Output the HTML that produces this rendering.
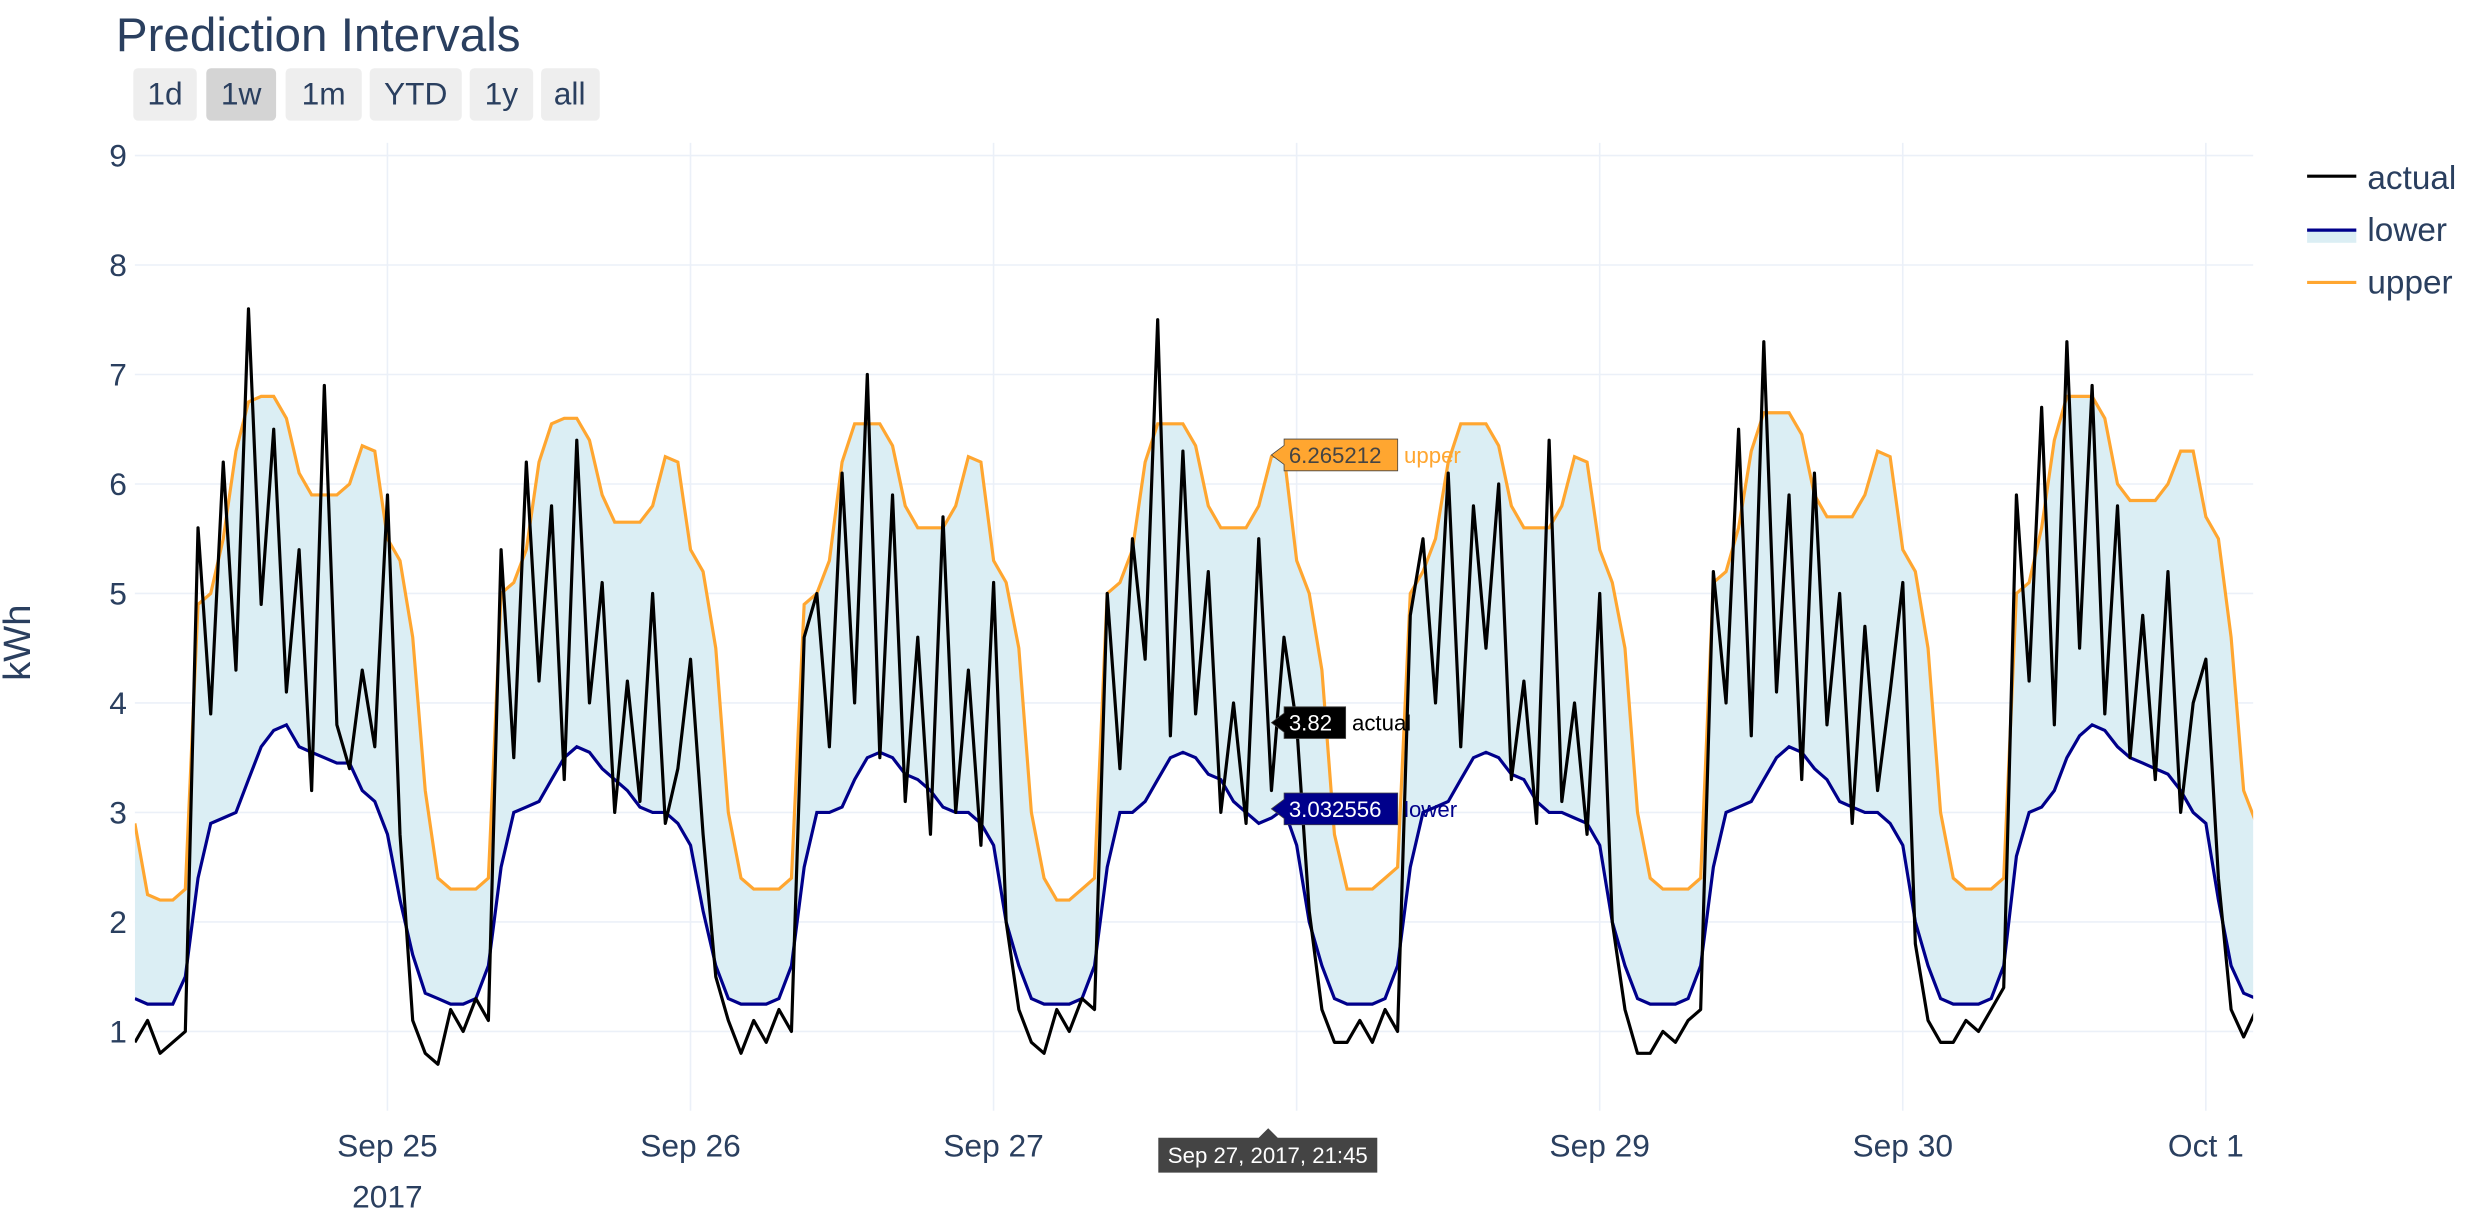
<!DOCTYPE html>
<html><head><meta charset="utf-8"><style>
html,body{margin:0;padding:0;background:#fff;}
svg{display:block;font-family:"Liberation Sans","DejaVu Sans",sans-serif;}
</style></head><body>
<svg id="chart" width="2488" height="1232" viewBox="0 0 1568 776.4" xmlns="http://www.w3.org/2000/svg">
<g id="grid"></g>
<g id="series"></g>
<g id="axes"></g>
<text x="73" y="32" font-size="30" fill="#2a3f5f">Prediction Intervals</text>
<g font-size="20" fill="#2a3f5f">
<g><rect x="84" y="43" width="40" height="33" rx="3" fill="#eeeeee"/><text x="104" y="66" text-anchor="middle" fill="#2a3f5f">1d</text></g>
<g><rect x="130" y="43" width="44" height="33" rx="3" fill="#d4d4d4"/><text x="152" y="66" text-anchor="middle" fill="#2a3f5f">1w</text></g>
<g><rect x="180" y="43" width="48" height="33" rx="3" fill="#eeeeee"/><text x="204" y="66" text-anchor="middle" fill="#2a3f5f">1m</text></g>
<g><rect x="233" y="43" width="58" height="33" rx="3" fill="#eeeeee"/><text x="262" y="66" text-anchor="middle" fill="#2a3f5f">YTD</text></g>
<g><rect x="296" y="43" width="40" height="33" rx="3" fill="#eeeeee"/><text x="316" y="66" text-anchor="middle" fill="#2a3f5f">1y</text></g>
<g><rect x="341" y="43" width="37" height="33" rx="3" fill="#eeeeee"/><text x="359" y="66" text-anchor="middle" fill="#2a3f5f">all</text></g>
</g>
<text transform="translate(19,405) rotate(-90)" text-anchor="middle" font-size="24" fill="#2a3f5f">kWh</text>
<g font-size="21" fill="#2a3f5f">
<g><line x1="1454" y1="111" x2="1485" y2="111" stroke="#000" stroke-width="2"/><text x="1492" y="119">actual</text></g>
<g><rect x="1454" y="145" width="31" height="8" fill="#dbeef4"/><line x1="1454" y1="145" x2="1485" y2="145" stroke="#00008b" stroke-width="2"/><text x="1492" y="152">lower</text></g>
<g><line x1="1454" y1="178" x2="1485" y2="178" stroke="#ffa630" stroke-width="2"/><text x="1492" y="185">upper</text></g>
</g>
<g id="hover"></g>
</svg>
<script>
// hourly values starting Sep 24 2017 04:00
const startLabel = "2017-09-24T04:00";
const actual = [
0.9,1.1,0.8,0.9,1.0,5.6,3.9,6.2,4.3,7.6,4.9,6.5,4.1,5.4,3.2,6.9,3.8,3.4,4.3,3.6,5.9,2.8,1.1,0.8,
0.7,1.2,1.0,1.3,1.1,5.4,3.5,6.2,4.2,5.8,3.3,6.4,4.0,5.1,3.0,4.2,3.1,5.0,2.9,3.4,4.4,2.8,1.5,1.1,
0.8,1.1,0.9,1.2,1.0,4.6,5.0,3.6,6.1,4.0,7.0,3.5,5.9,3.1,4.6,2.8,5.7,3.0,4.3,2.7,5.1,2.0,1.2,0.9,
0.8,1.2,1.0,1.3,1.2,5.0,3.4,5.5,4.4,7.5,3.7,6.3,3.9,5.2,3.0,4.0,2.9,5.5,3.2,4.6,3.8,2.1,1.2,0.9,
0.9,1.1,0.9,1.2,1.0,4.8,5.5,4.0,6.1,3.6,5.8,4.5,6.0,3.3,4.2,2.9,6.4,3.1,4.0,2.8,5.0,2.0,1.2,0.8,
0.8,1.0,0.9,1.1,1.2,5.2,4.0,6.5,3.7,7.3,4.1,5.9,3.3,6.1,3.8,5.0,2.9,4.7,3.2,4.1,5.1,1.8,1.1,0.9,
0.9,1.1,1.0,1.2,1.4,5.9,4.2,6.7,3.8,7.3,4.5,6.9,3.9,5.8,3.5,4.8,3.3,5.2,3.0,4.0,4.4,2.4,1.2,0.95,
1.2];
const upper = [
2.9,2.25,2.2,2.2,2.3,4.9,5.0,5.5,6.3,6.75,6.8,6.8,6.6,6.1,5.9,5.9,5.9,6.0,6.35,6.3,5.5,5.3,4.6,3.2,
2.4,2.3,2.3,2.3,2.4,5.0,5.1,5.4,6.2,6.55,6.6,6.6,6.4,5.9,5.65,5.65,5.65,5.8,6.25,6.2,5.4,5.2,4.5,3.0,
2.4,2.3,2.3,2.3,2.4,4.9,5.0,5.3,6.2,6.55,6.55,6.55,6.35,5.8,5.6,5.6,5.6,5.8,6.25,6.2,5.3,5.1,4.5,3.0,
2.4,2.2,2.2,2.3,2.4,5.0,5.1,5.4,6.2,6.55,6.55,6.55,6.35,5.8,5.6,5.6,5.6,5.8,6.25,6.27,5.3,5.0,4.3,2.8,
2.3,2.3,2.3,2.4,2.5,5.0,5.2,5.5,6.2,6.55,6.55,6.55,6.35,5.8,5.6,5.6,5.6,5.8,6.25,6.2,5.4,5.1,4.5,3.0,
2.4,2.3,2.3,2.3,2.4,5.1,5.2,5.6,6.3,6.65,6.65,6.65,6.45,5.9,5.7,5.7,5.7,5.9,6.3,6.25,5.4,5.2,4.5,3.0,
2.4,2.3,2.3,2.3,2.4,5.0,5.1,5.6,6.4,6.8,6.8,6.8,6.6,6.0,5.85,5.85,5.85,6.0,6.3,6.3,5.7,5.5,4.6,3.2,
2.9];
const lower = [
1.3,1.25,1.25,1.25,1.5,2.4,2.9,2.95,3.0,3.3,3.6,3.75,3.8,3.6,3.55,3.5,3.45,3.45,3.2,3.1,2.8,2.2,1.7,1.35,
1.3,1.25,1.25,1.3,1.6,2.5,3.0,3.05,3.1,3.3,3.5,3.6,3.55,3.4,3.3,3.2,3.05,3.0,3.0,2.9,2.7,2.1,1.6,1.3,
1.25,1.25,1.25,1.3,1.6,2.5,3.0,3.0,3.05,3.3,3.5,3.55,3.5,3.35,3.3,3.2,3.05,3.0,3.0,2.9,2.7,2.0,1.6,1.3,
1.25,1.25,1.25,1.3,1.6,2.5,3.0,3.0,3.1,3.3,3.5,3.55,3.5,3.35,3.3,3.1,3.0,2.9,2.95,3.03,2.7,2.0,1.6,1.3,
1.25,1.25,1.25,1.3,1.6,2.5,3.0,3.05,3.1,3.3,3.5,3.55,3.5,3.35,3.3,3.1,3.0,3.0,2.95,2.9,2.7,2.0,1.6,1.3,
1.25,1.25,1.25,1.3,1.6,2.5,3.0,3.05,3.1,3.3,3.5,3.6,3.55,3.4,3.3,3.1,3.05,3.0,3.0,2.9,2.7,2.0,1.6,1.3,
1.25,1.25,1.25,1.3,1.6,2.6,3.0,3.05,3.2,3.5,3.7,3.8,3.75,3.6,3.5,3.45,3.4,3.35,3.2,3.0,2.9,2.2,1.6,1.35,
1.3];
const yTicks = [1,2,3,4,5,6,7,8,9];
const xTickLabels = ["Sep 25","Sep 26","Sep 27","","Sep 29","Sep 30","Oct 1"];
const xTickHours = [20,44,68,92,116,140,164];

const NS="http://www.w3.org/2000/svg";
const X0=85, X1=1420, Y9=98, Y1=650;
const HOUR=191/24;
function xs(h){return 85 + h*HOUR;}
function ys(v){return Y1 - (v-1)*(Y1-Y9)/8;}
function mk(tag,attrs,parent){const e=document.createElementNS(NS,tag);for(const k in attrs)e.setAttribute(k,attrs[k]);parent.appendChild(e);return e;}
const grid=document.getElementById('grid'), series=document.getElementById('series'), axes=document.getElementById('axes'), hover=document.getElementById('hover');

yTicks.forEach(v=>{
  const l=mk('line',{x1:X0,x2:X1,y1:ys(v),y2:ys(v),stroke:'#ebf0f8','stroke-width':1},grid);
  
  
  const t=mk('text',{x:80,y:ys(v)+7,'text-anchor':'end','font-size':20,fill:'#2a3f5f'},axes);
  t.textContent=v;
  
  
});
xTickHours.forEach((h,i)=>{
  const l=mk('line',{x1:xs(h),x2:xs(h),y1:90,y2:700,stroke:'#ebf0f8','stroke-width':1},grid);
  
  
  const t=mk('text',{x:xs(h),y:729,'text-anchor':'middle','font-size':20,fill:'#2a3f5f'},axes);
  t.textContent=xTickLabels[i];
  
  
});
const yr=mk('text',{x:xs(20),y:761,'text-anchor':'middle','font-size':20,fill:'#2a3f5f'},axes);
yr.textContent='2017';



const cp=mk('clipPath',{id:'clip'},series);
mk('rect',{x:X0,y:80,width:X1-X0,height:640},cp);
const g=mk('g',{'clip-path':'url(#clip)'},series);
function pts(arr){return arr.map((v,i)=>xs(i).toFixed(1)+','+ys(v).toFixed(1));}
const band=mk('polygon',{points:pts(lower).concat(pts(upper).reverse()).join(' '),fill:'#dbeef4'},g);


const lo=mk('polyline',{points:pts(lower).join(' '),fill:'none',stroke:'#00008b','stroke-width':2},g);


const up=mk('polyline',{points:pts(upper).join(' '),fill:'none',stroke:'#ffa630','stroke-width':2},g);


const ac=mk('polyline',{points:pts(actual).join(' '),fill:'none',stroke:'#000','stroke-width':2,'stroke-linejoin':'round'},g);



// hover labels at Sep 27 21:45
const hh=89.75, hx=xs(hh);
function hlabel(val,txt,col,name,textCol){
  const y=ys(val), bx=hx+10;
  const w= String(val).length*8.2+6;
  const gg=mk('g',{},hover);
  
  
  mk('path',{d:`M${hx+2},${y} L${bx},${y-6} L${bx},${y-10} L${bx+w},${y-10} L${bx+w},${y+10} L${bx},${y+10} L${bx},${y+6} Z`,fill:col,stroke:'#444','stroke-width':0.5},gg);
  const t1=mk('text',{x:bx+3,y:y+5,'font-size':14,fill:textCol},gg);t1.textContent=val;
  const t2=mk('text',{x:bx+w+4,y:y+5,'font-size':14,fill:col==='#000000'?'#000':col},gg);t2.textContent=txt;
}
hlabel(6.265212,'upper','#ffa630','hover-upper','#444');
hlabel(3.82,'actual','#000000','hover-actual','#fff');
hlabel(3.032556,'lower','#00008b','hover-lower','#fff');
const xb=mk('g',{},hover);


mk('path',{d:`M730,717 L${hx-6},717 L${hx},711 L${hx+6},717 L868,717 L868,739 L730,739 Z`,fill:'#444'},xb);
const xt=mk('text',{x:799,y:733,'text-anchor':'middle','font-size':14,fill:'#fff'},xb);xt.textContent='Sep 27, 2017, 21:45';
</script>
</body></html>
